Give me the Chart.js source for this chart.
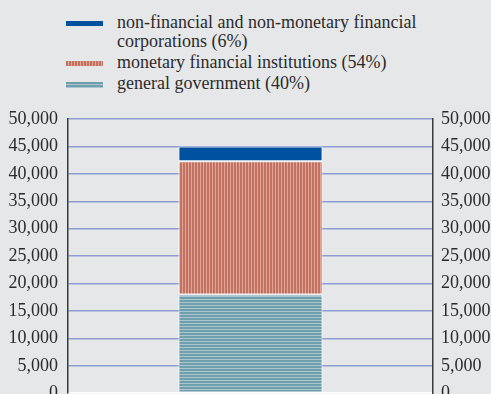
<!DOCTYPE html>
<html lang="en">
<head>
    <meta charset="UTF-8">
    <title>Debt securities by holder</title>
    <script src="https://cdn.jsdelivr.net/npm/chart.js"></script>
    <style>
        html, body {
            margin: 0;
            padding: 0;
            background: #e6e7e9;
            overflow: hidden;
        }

        #legend {
            position: absolute;
            left: 66px;
            top: 13px;
            font-family: "Liberation Serif", "Times New Roman", serif;
            font-size: 18px;
            color: #2b2b2b;
            line-height: 19px;
        }

        #legend .item {
            display: flex;
            align-items: flex-start;
            margin-bottom: 2px;
        }

        #legend .swatch {
            width: 37px;
            height: 5px;
            margin-top: 8px;
            margin-right: 14px;
            flex: none;
        }

        #legend .txt {
            width: 330px;
        }

        .wrap {
            position: absolute;
            left: 0;
            top: 0;
            width: 491px;
            height: 414px;
        }
    </style>
</head>
<body>
    <div id="legend"></div>
    <div class="wrap">
        <canvas id="chart"></canvas>
    </div>

    <script>
        // single stacked column, values in EUR millions
        const categories = [''];
        const governmentValues = [18000];
        const mfiValues = [24300];
        const corporationsValues = [2700];

        const seriesLabels = [
            'non-financial and non-monetary financial corporations (6%)',
            'monetary financial institutions (54%)',
            'general government (40%)'
        ];
        const yTicks = [0, 5000, 10000, 15000, 20000, 25000, 30000, 35000, 40000, 45000, 50000];

        const FONT = '"Liberation Serif", "Times New Roman", serif';

        // striped fills
        function stripes(dark, light, vertical) {
            const c = document.createElement('canvas');
            c.width = 3;
            c.height = 3;
            const g = c.getContext('2d');
            g.fillStyle = light;
            g.fillRect(0, 0, 3, 3);
            g.fillStyle = dark;
            if (vertical) g.fillRect(0, 0, 2, 3);
            else g.fillRect(0, 0, 3, 2);
            return g.createPattern(c, 'repeat');
        }

        const blue = '#00529f';
        const redFill = stripes('#c27262', '#e0a593', true);
        const tealFill = stripes('#6f9ead', '#a9c5ce', false);

        // html legend (first label wraps after "financial")
        const swatchCss = [
            'background:' + blue,
            'background:repeating-linear-gradient(90deg,#c27262 0 2px,#e0a593 2px 3px)',
            'background:repeating-linear-gradient(180deg,#6f9ead 0 2px,#a9c5ce 2px 3px);height:6px'
        ];
        const legendEl = document.getElementById('legend');
        seriesLabels.forEach((label, i) => {
            const item = document.createElement('div');
            item.className = 'item';
            item.innerHTML = '<div class="swatch" style="' + swatchCss[i] + '"></div><div class="txt"></div>';
            item.querySelector('.txt').textContent = label;
            legendEl.appendChild(item);
        });

        const tickCallback = v => v.toLocaleString('en-US');

        new Chart(document.getElementById('chart'), {
            type: 'bar',
            data: {
                labels: categories,
                datasets: [
                    { label: seriesLabels[2], data: governmentValues, backgroundColor: tealFill },
                    { label: seriesLabels[1], data: mfiValues, backgroundColor: redFill },
                    { label: seriesLabels[0], data: corporationsValues, backgroundColor: blue }
                ]
            },
            options: {
                responsive: true,
                maintainAspectRatio: false,
                animation: false,
                layout: { padding: { top: 119, bottom: 17, left: 0, right: 0 } },
                datasets: {
                    bar: {
                        barPercentage: 0.395,
                        categoryPercentage: 1,
                        borderColor: 'rgba(255,255,255,0.85)',
                        borderWidth: 1,
                        borderSkipped: false
                    }
                },
                plugins: {
                    legend: { display: false },
                    tooltip: { enabled: false }
                },
                scales: {
                    x: {
                        stacked: true,
                        display: false
                    },
                    y: {
                        stacked: true,
                        position: 'left',
                        min: 0,
                        max: 50000,
                        afterBuildTicks: s => { s.ticks = yTicks.map(v => ({ value: v })); },
                        afterFit: s => { s.width = 68; },
                        grid: {
                            color: ctx => ctx.tick && ctx.tick.value === 0 ? '#ffffff' : '#8d9dd2',
                            lineWidth: 1.5,
                            drawTicks: false
                        },
                        border: { color: '#3a3a3a', width: 1.5 },
                        ticks: {
                            padding: 10,
                            color: '#2b2b2b',
                            font: { family: FONT, size: 18 },
                            callback: tickCallback
                        }
                    },
                    y2: {
                        position: 'right',
                        min: 0,
                        max: 50000,
                        afterBuildTicks: s => { s.ticks = yTicks.map(v => ({ value: v })); },
                        afterFit: s => { s.width = 58; },
                        grid: { display: false, drawTicks: false },
                        border: { color: '#3a3a3a', width: 1.5 },
                        ticks: {
                            padding: 8,
                            color: '#2b2b2b',
                            font: { family: FONT, size: 18 },
                            callback: tickCallback
                        }
                    }
                }
            }
        });
    </script>
</body>
</html>
